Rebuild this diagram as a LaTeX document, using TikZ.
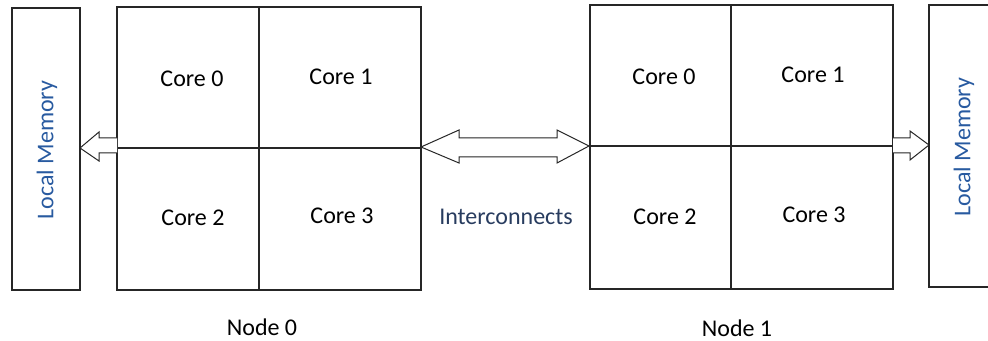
\documentclass[tikz,border=0pt]{standalone}
\usepackage{fontspec}
\setmainfont{Carlito}
\definecolor{memblue}{RGB}{40,90,160}
\definecolor{icblue}{RGB}{40,60,95}
\definecolor{ln}{RGB}{38,38,38}
\begin{document}
\begin{tikzpicture}[x=0.5pt,y=-0.5pt,
  cell/.style={draw=ln,line width=0.8pt,rectangle,inner sep=0pt},
  lbl/.style={font=\fontsize{12}{14}\selectfont,text=black,inner sep=0pt},
  memlbl/.style={font=\fontsize{12}{14}\selectfont,text=memblue,inner sep=0pt,rotate=90},
  blockarrow/.style={draw=ln,line width=0.5pt,fill=white,line join=miter}]
\useasboundingbox (0,0) rectangle (988,341);
\clip (0,0) rectangle (988,341);
% memories
\draw[cell] (12,8) rectangle (80,290);
\node[memlbl] (mem0) at (47,150) {Local Memory};
\draw[cell] (929,5) rectangle (1000,287);
\node[memlbl] (mem1) at (964,147) {Local Memory};
% node 0 cells
\draw[cell] (117,7) rectangle (259,148);
\draw[cell] (259,7) rectangle (421,148);
\draw[cell] (117,148) rectangle (259,290);
\draw[cell] (259,148) rectangle (421,290);
\node[lbl] (a0) at (192,79) {Core 0};
\node[lbl] (a1) at (341,77) {Core 1};
\node[lbl] (a2) at (193,218) {Core 2};
\node[lbl] (a3) at (342,216) {Core 3};
\node[lbl] (n0) at (262,327) {Node 0};
% node 1 cells
\draw[cell] (590,5) rectangle (731,146);
\draw[cell] (731,5) rectangle (893,146);
\draw[cell] (590,146) rectangle (731,289);
\draw[cell] (731,146) rectangle (893,289);
\node[lbl] (b0) at (664,77) {Core 0};
\node[lbl] (b1) at (813,75) {Core 1};
\node[lbl] (b2) at (665,217) {Core 2};
\node[lbl] (b3) at (814,215) {Core 3};
\node[lbl] (n1) at (737,328) {Node 1};
\node[lbl,text=icblue] (ic) at (506,217) {Interconnects};
% block arrows
\draw[blockarrow] (117,138) -- (99,138) -- (99,132) -- (80,148) -- (99,161) -- (99,153) -- (117,153);
\draw[blockarrow] (421,147) -- (459,130) -- (459,138) -- (557,138) -- (557,130) -- (589,146)
  -- (557,163) -- (557,157) -- (459,157) -- (459,163) -- cycle;
\draw[blockarrow] (893,138) -- (910,138) -- (910,131) -- (929,145) -- (910,160) -- (910,153) -- (893,153);
\end{tikzpicture}
\end{document}
